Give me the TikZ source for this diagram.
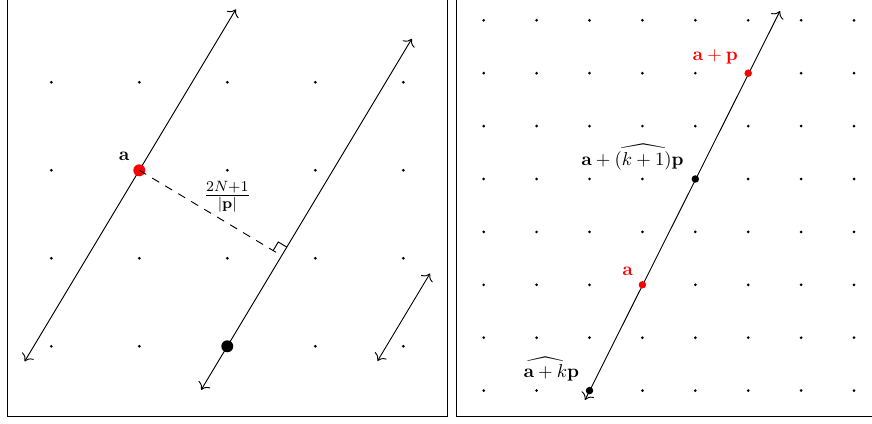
\documentclass[tikz,border=0pt]{standalone}
\usepackage{amsmath,amssymb}
\usetikzlibrary{arrows.meta,positioning}
\definecolor{ptred}{RGB}{255,0,0}

\begin{document}
\begin{tikzpicture}[x=0.535pt,y=-0.535pt,>={To[scale=1.3]}]
  \tikzstyle{lat}=[circle,fill=black,inner sep=0pt,minimum size=1.6pt]
  \tikzstyle{bigpt}=[circle,inner sep=0pt,minimum size=6.4pt]
  \tikzstyle{smallpt}=[circle,inner sep=0pt,minimum size=4pt]
  \tikzstyle{ln}=[<->,line width=0.5pt]
  \useasboundingbox (0,0) rectangle (872,424);
  \clip (0,0) rectangle (872,424);

  % -- left panel --
  \draw (7.5,416.5) rectangle (447.5,-5);
  \foreach \i in {0,...,4}
    \foreach \j in {0,...,3}
      \node[lat] (l\i\j) at ({51.3+88*\i},{82.3+88*\j}) {};

  \coordinate (top1) at (235.9,9.3);
  \coordinate (bot1) at (24.7,361.3);
  \coordinate (top2) at (411.8,38.8);
  \coordinate (bot2) at (201.2,389.8);
  \coordinate (top3) at (430,273.5);
  \coordinate (bot3) at (377.5,361);
  \coordinate (foot) at (281.7,255.7);

  \draw[ln] (bot1) -- (top1);
  \draw[ln] (bot2) -- (top2);
  \draw[ln] (bot3) -- (top3);

  \node[bigpt,fill=ptred] (a) at (139.3,170.3) {};
  \node[bigpt,fill=black] (b) at (227.3,346.3) {};
  \draw[line width=0.5pt,dash pattern=on 4.3pt off 3.8pt] (a.center) -- (foot);
  \draw[line width=0.5pt] (286.8,247.1) -- (278.3,242.0) -- (273.1,250.6);
  \node (alab) at (124,156.7) {$\mathbf{a}$};
  \node[font=\fontsize{11.5}{13}\selectfont] (dist) at (227.3,197) {$\frac{2N+1}{|\mathbf{p}|}$};

  % -- right panel --
  \draw (456.5,416.5) rectangle (880,-5);
  \foreach \i in {0,...,7}
    \foreach \j in {0,...,7}
      \node[lat] (r\i\j) at ({483.7+52.9*\i},{20.3+52.9*\j}) {};

  \coordinate (top4) at (780,11);
  \coordinate (bot4) at (585,400);
  \draw[ln] (bot4) -- (top4);

  \node[smallpt,fill=ptred] (ra) at (642.4,284.8) {};
  \node[smallpt,fill=ptred] (rap) at (748.2,73.2) {};
  \node[smallpt,fill=black] (rk1) at (695.3,179) {};
  \node[smallpt,fill=black] (rk) at (589.5,390.6) {};

  \node[text=ptred] (ralab) at (627.7,271.7) {$\mathbf{a}$};
  \node[text=ptred] (raplab) at (715.3,57.3) {$\mathbf{a}+\mathbf{p}$};
  \node (rk1lab) at (632.5,157) {$\mathbf{a}+\widehat{(k+1)}\mathbf{p}$};
  \node (rklab) at (551.3,369) {$\widehat{\mathbf{a}+k}\mathbf{p}$};
\end{tikzpicture}
\end{document}
